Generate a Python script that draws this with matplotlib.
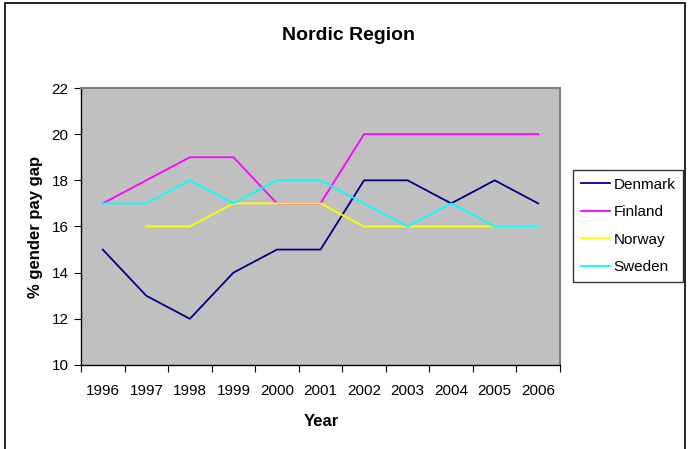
import matplotlib.pyplot as plt
import numpy as np
from matplotlib.patches import Rectangle

plt.rcParams['font.family'] = ['Liberation Sans', 'DejaVu Sans']

years = ['1996', '1997', '1998', '1999', '2000', '2001', '2002', '2003', '2004', '2005', '2006']
denmark = [15, 13, 12, 14, 15, 15, 18, 18, 17, 18, 17]
finland = [17, 18, 19, 19, 17, 17, 20, 20, 20, 20, 20]
norway = [None, 16, 16, 17, 17, 17, 16, 16, 16, 16, 16]
sweden = [17, 17, 18, 17, 18, 18, 17, 16, 17, 16, 16]

series = [('Denmark', denmark, '#000080'),
          ('Finland', finland, '#FF00FF'),
          ('Norway', norway, '#FFFF00'),
          ('Sweden', sweden, '#00FFFF')]

W, H = 690, 449
fig = plt.figure(figsize=(W / 100, H / 100), dpi=100)

# outer chart frame
fig.patches.append(Rectangle((5 / W, -0.05), 680 / W, 1.05 - 3 / H,
                             transform=fig.transFigure, fill=False,
                             edgecolor='black', linewidth=1.2))

ax = fig.add_axes([81 / W, 1 - 365 / H, 479 / W, 277 / H])
ax.set_facecolor('#C0C0C0')

x = np.arange(len(years))
for name, vals, col in series:
    v = np.array([np.nan if a is None else a for a in vals], dtype=float)
    ax.plot(x, v, color=col, linewidth=1.3, label=name)

ax.set_xlim(-0.5, len(years) - 0.5)
ax.set_ylim(10, 22)
ax.set_yticks(range(10, 23, 2))
ax.set_xticks(np.arange(-0.5, len(years), 1.0))
ax.set_xticklabels([])
ax.set_xticks(x, minor=True)
ax.set_xticklabels(years, minor=True)
ax.tick_params(axis='x', which='major', length=5, direction='out', color='black')
ax.tick_params(axis='x', which='minor', length=0, pad=14, labelsize=11)
ax.tick_params(axis='y', length=5, direction='out', labelsize=11, pad=4)

for s in ['top', 'right']:
    ax.spines[s].set_color('#808080')
    ax.spines[s].set_linewidth(1.5)
for s in ['left', 'bottom']:
    ax.spines[s].set_color('black')
    ax.spines[s].set_linewidth(1.0)

fig.text(348 / W, 1 - 35 / H, 'Nordic Region', ha='center', va='center',
         fontsize=14, fontweight='bold')
fig.text(36 / W, 1 - 227 / H, '% gender pay gap', ha='center', va='center',
         rotation=90, fontsize=12, fontweight='bold')
fig.text(321 / W, 1 - 421 / H, 'Year', ha='center', va='center',
         fontsize=12, fontweight='bold')

leg = fig.legend(loc='upper left', bbox_to_anchor=(573 / W, 1 - 170 / H),
                 frameon=True, fancybox=False, fontsize=11,
                 handlelength=1.9, handletextpad=0.25, labelspacing=0.88,
                 borderpad=0.5, borderaxespad=0)
leg.get_frame().set_edgecolor('black')
leg.get_frame().set_linewidth(1.0)

fig.savefig('out.png', dpi=100)
